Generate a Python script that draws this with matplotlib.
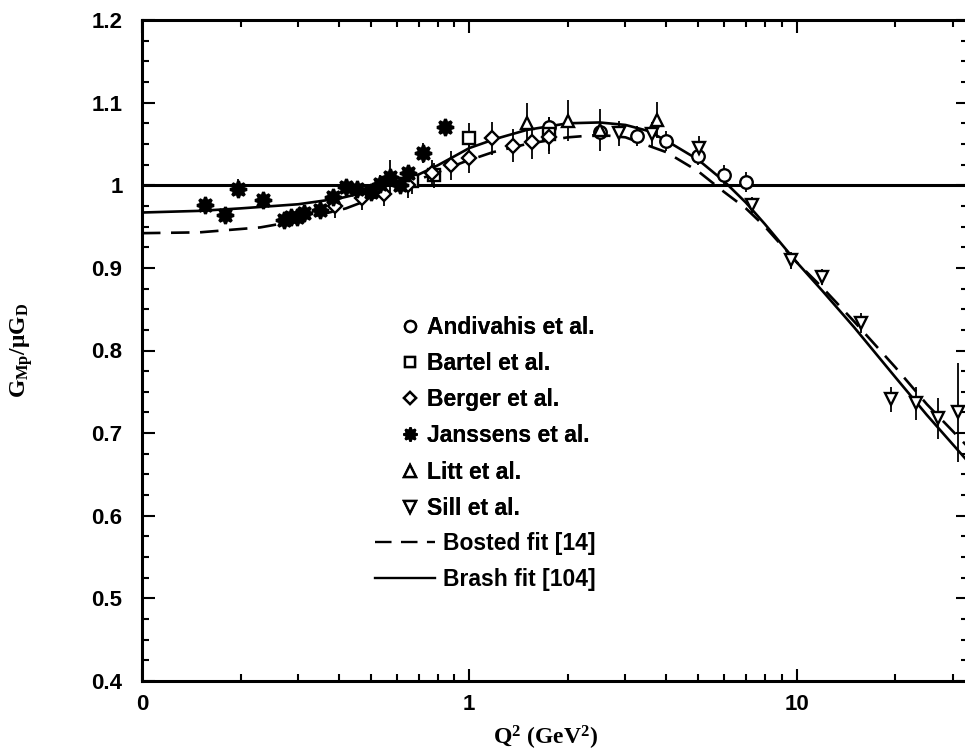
import matplotlib
matplotlib.use("Agg")
import matplotlib.pyplot as plt
from matplotlib.ticker import MultipleLocator, FixedLocator, FuncFormatter
from matplotlib.lines import Line2D

plt.rcParams["mathtext.fontset"] = "custom"
plt.rcParams["mathtext.rm"] = "Liberation Serif:bold"
plt.rcParams["mathtext.it"] = "Liberation Serif:bold"
plt.rcParams["mathtext.bf"] = "Liberation Serif:bold"

# ---- data: proton magnetic form factor ratio G_Mp / (mu G_D) ----
andivahis_q2 = [1.75, 2.5, 3.25, 4.0, 5.0, 6.0, 7.0]
andivahis_g = [1.070, 1.065, 1.060, 1.054, 1.036, 1.012, 1.004]
andivahis_err = [0.012, 0.012, 0.012, 0.012, 0.012, 0.012, 0.012]

bartel_q2 = [0.67, 0.78, 1.0, 1.75]
bartel_g = [1.005, 1.012, 1.057, 1.062]
bartel_err = [0.015, 0.015, 0.018, 0.02]

berger_q2 = [0.39, 0.47, 0.55, 0.65, 0.77, 0.88, 1.0, 1.17, 1.36, 1.56, 1.75]
berger_g = [0.975, 0.985, 0.990, 1.000, 1.015, 1.024, 1.033, 1.057, 1.048, 1.052, 1.058]
berger_err = [0.015, 0.015, 0.015, 0.015, 0.015, 0.018, 0.018, 0.02, 0.02, 0.02, 0.02]

janssens_q2 = [0.156, 0.179, 0.196, 0.235, 0.272, 0.285, 0.298, 0.312, 0.35,
               0.384, 0.42, 0.455, 0.50, 0.535, 0.574, 0.615, 0.65, 0.72, 0.845]
janssens_g = [0.976, 0.964, 0.996, 0.982, 0.958, 0.961, 0.962, 0.966, 0.970,
              0.986, 0.998, 0.996, 0.992, 1.002, 1.010, 1.000, 1.015, 1.039, 1.070]
janssens_err = [0.008, 0.008, 0.012, 0.010, 0.006, 0.006, 0.006, 0.006, 0.008,
                0.008, 0.008, 0.008, 0.008, 0.010, 0.020, 0.010, 0.010, 0.012, 0.010]

litt_q2 = [1.5, 2.0, 2.5, 3.75]
litt_g = [1.075, 1.078, 1.067, 1.079]
litt_err = [0.025, 0.025, 0.025, 0.022]

sill_q2 = [2.86, 3.62, 5.03, 7.30, 9.63, 11.99, 15.72, 19.47, 23.24, 26.99, 31.2]
sill_g = [1.063, 1.062, 1.045, 0.976, 0.909, 0.889, 0.833, 0.741, 0.736, 0.718, 0.725]
sill_err = [0.015, 0.015, 0.015, 0.010, 0.010, 0.010, 0.012, 0.015, 0.020, 0.025, 0.060]

# fit curves
bosted_q2 = [0.1, 0.15, 0.23, 0.28, 0.42, 0.52, 0.65, 0.78, 0.96, 1.18, 1.5,
             2.0, 2.5, 3.0, 4.0, 5.0, 6.0, 7.0, 8.0, 10.0, 12.0, 15.0, 20.0, 25.0, 34.0]
bosted_g = [0.942, 0.943, 0.949, 0.955, 0.972, 0.986, 1.002, 1.014, 1.028, 1.040, 1.050,
            1.058, 1.061, 1.058, 1.040, 1.017, 0.992, 0.972, 0.950, 0.907, 0.876, 0.835,
            0.780, 0.735, 0.680]

brash_q2 = [0.1, 0.15, 0.2, 0.3, 0.4, 0.5, 0.6, 0.7, 0.8, 0.9, 1.0, 1.2, 1.5, 2.0,
            2.5, 3.0, 3.5, 4.0, 5.0, 6.0, 7.0, 8.0, 10.0, 12.0, 15.0, 20.0, 25.0, 34.0]
brash_g = [0.967, 0.969, 0.972, 0.977, 0.984, 0.993, 1.003, 1.013, 1.024, 1.035, 1.045,
           1.056, 1.067, 1.075, 1.076, 1.073, 1.066, 1.054, 1.031, 1.005, 0.979, 0.953,
           0.907, 0.872, 0.828, 0.768, 0.722, 0.662]

x_ticks = [0.1, 1, 10]
x_tick_labels = ["0", "1", "10"]

W, H = 965, 755
fig = plt.figure(figsize=(W / 100, H / 100), dpi=100)
ax = fig.add_axes([142 / W, (H - 681) / H, (968 - 142) / W, (681 - 20) / H])

ax.set_xscale("log")
ax.set_xlim(0.1, 33.4)
ax.set_ylim(0.4, 1.2)

ax.axhline(1.0, color="black", lw=2.2, zorder=2)

ax.plot(bosted_q2, bosted_g, color="black", lw=1.9, dashes=(7, 4), zorder=3)
ax.plot(brash_q2, brash_g, color="black", lw=1.9, zorder=3)

ms = 9
mew = 1.7
common = dict(color="black", ecolor="black", elinewidth=1.3, capsize=0, ls="none", zorder=4)
ax.errorbar(andivahis_q2, andivahis_g, yerr=andivahis_err, marker="o", ms=ms,
            mfc="white", mec="black", mew=mew, **common)
ax.errorbar(bartel_q2, bartel_g, yerr=bartel_err, marker="s", ms=ms - 1,
            mfc="white", mec="black", mew=mew, **common)
ax.errorbar(berger_q2, berger_g, yerr=berger_err, marker="D", ms=ms - 2,
            mfc="white", mec="black", mew=mew, **common)
ax.errorbar(janssens_q2, janssens_g, yerr=janssens_err, marker=(8, 1, 0), ms=ms + 3,
            mfc="black", mec="black", mew=2.2, **common)
ax.errorbar(litt_q2, litt_g, yerr=litt_err, marker="^", ms=ms,
            mfc="white", mec="black", mew=mew, **common)
ax.errorbar(sill_q2, sill_g, yerr=sill_err, marker="v", ms=ms,
            mfc="white", mec="black", mew=mew, **common)

# axes styling
for sp in ax.spines.values():
    sp.set_linewidth(2.2)
ax.xaxis.set_major_locator(FixedLocator(x_ticks))
ax.set_xticklabels(x_tick_labels)
ax.yaxis.set_major_locator(MultipleLocator(0.1))
ax.yaxis.set_minor_locator(MultipleLocator(0.025))
ax.yaxis.set_major_formatter(FuncFormatter(lambda v, p: "1" if abs(v - 1) < 1e-9 else f"{v:.1f}"))
ax.tick_params(which="both", direction="in", top=True, right=True, width=1.5)
ax.tick_params(which="major", length=9)
ax.tick_params(which="minor", length=5)
ax.tick_params(axis="y", which="major", pad=14)
ax.tick_params(axis="x", which="major", pad=9)
for lab in ax.get_xticklabels() + ax.get_yticklabels():
    lab.set_fontfamily("Liberation Sans")
    lab.set_fontweight("bold")
    lab.set_fontsize(16)

ax.set_xlabel(r"Q$^2$ (GeV$^2$)", fontsize=17, fontfamily="Liberation Serif",
              fontweight="bold", va="center")
ax.xaxis.set_label_coords(0.488, -0.086)
ax.set_ylabel(r"$G_{Mp}/\mu G_D$", fontsize=17, va="center")
ax.yaxis.set_label_coords(-0.146, 0.5)

# legend: data markers, then the two fits
fs = 16.5
lfont = dict(family="Liberation Sans", weight="bold", size=fs)
mk_handles = [
    Line2D([], [], ls="none", marker="o", ms=8, mfc="white", mec="black", mew=1.7),
    Line2D([], [], ls="none", marker="s", ms=7, mfc="white", mec="black", mew=1.7),
    Line2D([], [], ls="none", marker="D", ms=6.5, mfc="white", mec="black", mew=1.7),
    Line2D([], [], ls="none", marker=(8, 1, 0), ms=10, mfc="black", mec="black", mew=1.6),
    Line2D([], [], ls="none", marker="^", ms=8, mfc="white", mec="black", mew=1.7),
    Line2D([], [], ls="none", marker="v", ms=8, mfc="white", mec="black", mew=1.7),
]
mk_labels = ["Andivahis et al.", "Bartel et al.", "Berger et al.",
             "Janssens et al.", "Litt et al.", "Sill et al."]
leg1 = fig.legend(mk_handles, mk_labels, loc="upper left",
                  bbox_to_anchor=(403 / W, 1 - 316 / H), frameon=False, prop=lfont,
                  handlelength=0.58, handletextpad=0.45, labelspacing=0.573,
                  borderpad=0, borderaxespad=0, numpoints=1)
fig.add_artist(leg1)

ln_handles = [
    Line2D([], [], color="black", lw=1.7, dashes=(7, 4)),
    Line2D([], [], color="black", lw=1.7),
]
ln_labels = ["Bosted fit [14]", "Brash fit [104]"]
fig.legend(ln_handles, ln_labels, loc="upper left",
           bbox_to_anchor=(375 / W, 1 - 532 / H), frameon=False, prop=lfont,
           handlelength=2.6, handletextpad=0.35, labelspacing=0.573,
           borderpad=0, borderaxespad=0)

fig.savefig("out.png", dpi=100)
